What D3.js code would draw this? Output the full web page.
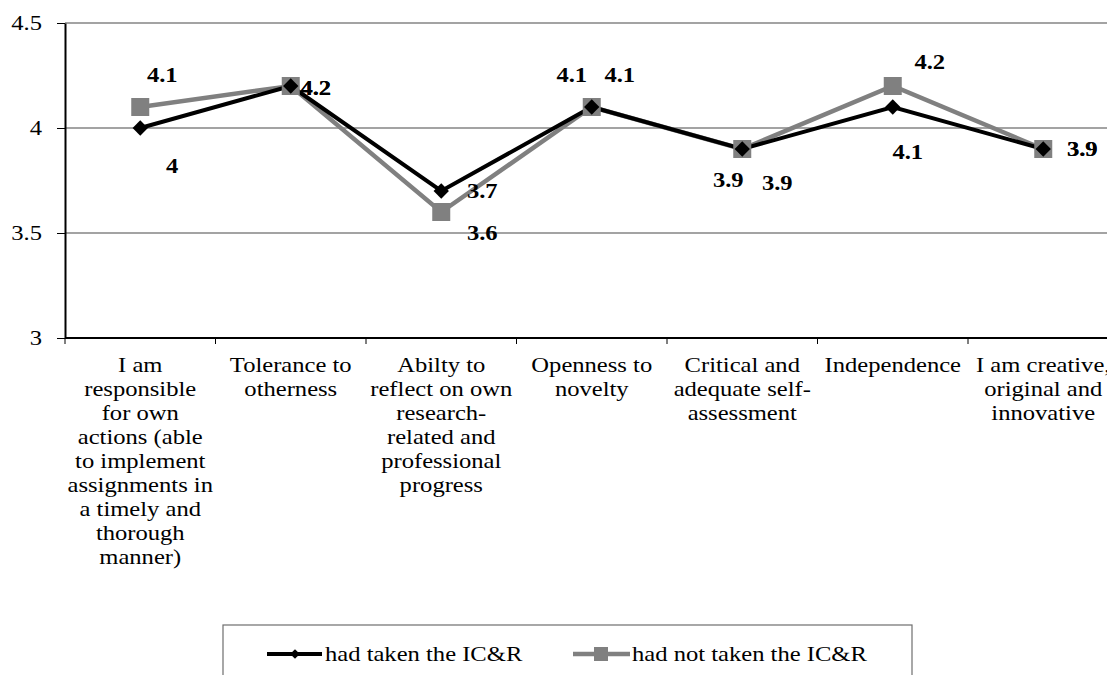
<!DOCTYPE html>
<html>
<head>
<meta charset="utf-8">
<script src="https://cdn.jsdelivr.net/npm/d3@7"></script>
<style>
	body { margin: 0; background: #fff; }
	svg { display: block; }
	svg text { font-family: "Liberation Serif", Tinos, "Times New Roman", Times, serif; }
</style>
</head>
<body>
<svg id="chart" width="1107" height="675"></svg>
<script>
// category labels, already broken into lines as in the original
const categories = [
	["I am", "responsible", "for own", "actions (able", "to implement", "assignments in", "a timely and", "thorough", "manner)"],
	["Tolerance to", "otherness"],
	["Abilty to", "reflect on own", "research-", "related and", "professional", "progress"],
	["Openness to", "novelty"],
	["Critical and", "adequate self-", "assessment"],
	["Independence"],
	["I am creative,", "original and", "innovative"]
];
const seriesNames = ["had taken the IC&R", "had not taken the IC&R"];
const takenValues = [4.0, 4.2, 3.7, 4.1, 3.9, 4.1, 3.9];
const notTakenValues = [4.1, 4.2, 3.6, 4.1, 3.9, 4.2, 3.9];
const yTicks = [3, 3.5, 4, 4.5];

// where each data label sits relative to its marker (dx, dy)
const takenLabelOffsets = [[32, 38], [25, 2], [41, 0], [-20, -32], [-14, 31], [15, 45], [39, 0]];
const notTakenLabelOffsets = [[22, -32], [25, 2], [41, 21], [28, -32], [35, 34], [37, -24], [39, 0]];

// the source picture is stretched sideways, so text is drawn a bit wider than tall
const FONT = 20.5;
const STRETCH = 1.2;

function whenDocumentLoaded(action) {
	if (document.readyState === "loading") {
		document.addEventListener("DOMContentLoaded", action);
	} else {
		action();
	}
}

function place(x, y) {
	return "translate(" + x + "," + y + ") scale(" + STRETCH + ",1)";
}

function drawChart() {
	const svg = d3.select("#chart");
	const left = 65, top = 23, bottom = 338;
	const band = 150.5;
	const right = left + band * categories.length; // runs past the picture edge, as in the original

	const x = d3.scaleBand().domain(d3.range(categories.length)).range([left, right]);
	const y = d3.scaleLinear().domain([3, 4.5]).range([bottom, top]);
	const cx = i => x(i) + x.bandwidth() / 2;

	// gridlines
	svg.append("g").selectAll("line").data(yTicks.filter(d => d > 3)).join("line")
		.attr("x1", left).attr("x2", right)
		.attr("y1", d => y(d)).attr("y2", d => y(d))
		.attr("stroke", "#858585").attr("stroke-width", 1.3);

	// y axis
	const yAxis = d3.axisLeft(y).tickValues(yTicks).tickSize(8).tickSizeOuter(0)
		.tickFormat(d3.format("~g"));
	const gy = svg.append("g").attr("transform", "translate(" + left + ",0)").call(yAxis)
		.attr("font-family", null);
	gy.select(".domain").attr("stroke", "#000").attr("stroke-width", 2);
	gy.selectAll(".tick line").attr("stroke", "#000").attr("stroke-width", 1);
	gy.selectAll(".tick text").attr("font-size", FONT).attr("fill", "#000")
		.attr("x", null).attr("transform", place(-23, 0));

	// x axis: ticks at band boundaries
	svg.append("line").attr("x1", left).attr("x2", right).attr("y1", bottom).attr("y2", bottom)
		.attr("stroke", "#000").attr("stroke-width", 2);
	svg.append("g").selectAll("line").data(d3.range(categories.length + 1)).join("line")
		.attr("x1", i => left + i * x.step()).attr("x2", i => left + i * x.step())
		.attr("y1", bottom).attr("y2", bottom + 6)
		.attr("stroke", "#000").attr("stroke-width", 1);

	const catText = svg.append("g").selectAll("text").data(categories).join("text")
		.attr("text-anchor", "middle").attr("font-size", FONT).attr("fill", "#000")
		.attr("transform", (d, i) => place(cx(i), bottom + 34));
	catText.selectAll("tspan").data(d => d).join("tspan")
		.attr("x", 0).attr("y", (d, j) => j * 24).text(d => d);

	const line = d3.line().x((d, i) => cx(i)).y(d => y(d));

	// grey series first, black on top
	svg.append("path").datum(notTakenValues).attr("d", line)
		.attr("fill", "none").attr("stroke", "#808080").attr("stroke-width", 4.5);
	svg.append("path").datum(takenValues).attr("d", line)
		.attr("fill", "none").attr("stroke", "#000").attr("stroke-width", 4);

	svg.append("g").selectAll("rect").data(notTakenValues).join("rect")
		.attr("x", (d, i) => cx(i) - 9).attr("y", d => y(d) - 9)
		.attr("width", 18).attr("height", 18).attr("fill", "#808080");

	const diamond = d3.symbol().type(d3.symbolDiamond2).size(150);
	svg.append("g").selectAll("path").data(takenValues).join("path")
		.attr("d", diamond)
		.attr("transform", (d, i) => "translate(" + cx(i) + "," + y(d) + ")")
		.attr("fill", "#000");

	// data labels
	function labels(values, offsets) {
		svg.append("g").selectAll("text").data(values).join("text")
			.attr("transform", (d, i) => place(cx(i) + offsets[i][0], y(d) + offsets[i][1]))
			.attr("text-anchor", "middle").attr("dominant-baseline", "central")
			.attr("font-size", FONT).attr("font-weight", "bold").attr("fill", "#000")
			.text(d => d3.format("~g")(d));
	}
	labels(notTakenValues, notTakenLabelOffsets);
	labels(takenValues, takenLabelOffsets);

	// legend
	const legend = svg.append("g");
	legend.append("rect").attr("x", 223).attr("y", 625).attr("width", 689).attr("height", 80)
		.attr("fill", "none").attr("stroke", "#6e6e6e").attr("stroke-width", 1.2);

	const e1 = legend.append("g").attr("transform", "translate(267,654)");
	e1.append("line").attr("x1", 0).attr("x2", 55).attr("stroke", "#000").attr("stroke-width", 4);
	e1.append("path").attr("d", d3.symbol().type(d3.symbolDiamond2).size(60))
		.attr("transform", "translate(28,0)").attr("fill", "#000");
	e1.append("text").attr("transform", place(58, 0)).attr("dominant-baseline", "central")
		.attr("font-size", FONT).attr("fill", "#000").text(seriesNames[0]);

	const e2 = legend.append("g").attr("transform", "translate(573,654)");
	e2.append("line").attr("x1", 0).attr("x2", 57).attr("stroke", "#808080").attr("stroke-width", 4.5);
	e2.append("rect").attr("x", 21).attr("y", -7).attr("width", 14).attr("height", 14).attr("fill", "#808080");
	e2.append("text").attr("transform", place(59, 0)).attr("dominant-baseline", "central")
		.attr("font-size", FONT).attr("fill", "#000").text(seriesNames[1]);
}

whenDocumentLoaded(drawChart);
</script>
</body>
</html>
